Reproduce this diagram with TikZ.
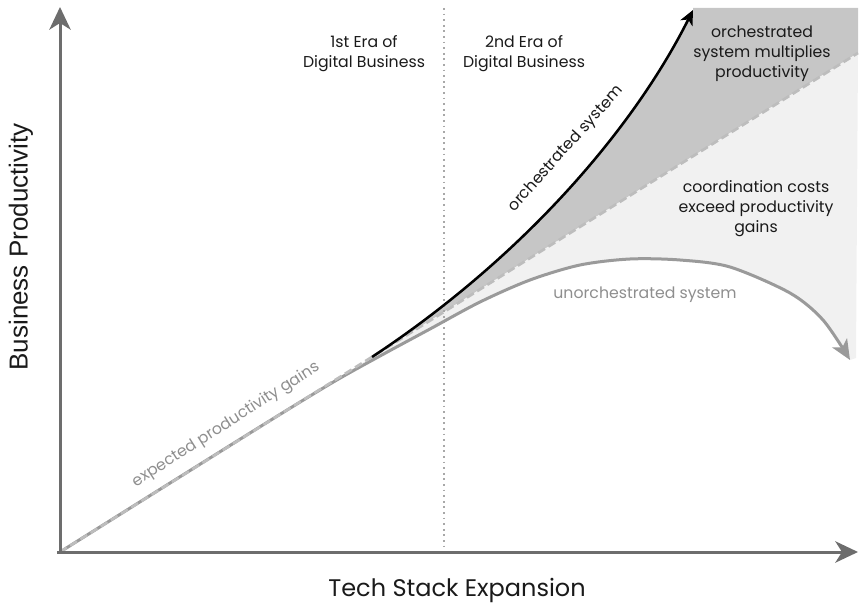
\documentclass[tikz,border=0pt]{standalone}
\usepackage{fontspec}
\setmainfont{Poppins}
\newfontfamily\axisfont{Liberation Sans}
\usetikzlibrary{arrows.meta}
\definecolor{axisgray}{HTML}{6D6D6D}
\definecolor{curvegray}{HTML}{9A9A9A}
\definecolor{expgray}{HTML}{BDBDBD}
\definecolor{darkfill}{HTML}{C6C6C6}
\definecolor{lightfill}{HTML}{F1F1F1}
\definecolor{dotgray}{HTML}{A8A8A8}
\definecolor{labelgray}{HTML}{8E8E8E}
\definecolor{ink}{HTML}{1A1A1A}
\tikzset{
  px/.style={x=0.75pt,y=-0.75pt},
  axis/.style={draw=axisgray,line width=2.25pt,
    -{Stealth[length=17pt,width=16pt,inset=5pt]}},
  label/.style={inner sep=0pt,align=center,text=ink,
    font=\fontsize{11.8}{15}\selectfont},
  graylabel/.style={label,text=labelgray},
  axislabel/.style={inner sep=0pt,text=ink,font=\fontsize{18}{22}\selectfont},
}
\begin{document}
\begin{tikzpicture}[px]
\useasboundingbox (0,0) rectangle (860,606);

% key points
\coordinate (O) at (60,552);
\coordinate (Ytip) at (60,7);
\coordinate (Xtip) at (858,552);
\coordinate (Split) at (372,357);
\coordinate (Otip) at (693,10);
\coordinate (Eend) at (858,53);
\coordinate (Uend) at (850,360);

% region between orchestrated curve and expected line
\fill[darkfill] (Split) .. controls (522,258) and (633,130) .. (Otip)
  -- (693,8) -- (858,8) -- (Eend) -- cycle;

% region between expected line and unorchestrated curve
\fill[lightfill] plot[smooth] coordinates {(60,552) (250,433) (330,384)
  (380,356) (430,329) (480,302) (530,280) (580,265) (630,259) (680,260)
  (730,267) (790,293) (823,320) (850,360)}
  -- (856,358) -- (Eend) -- cycle;

% boundary between the two eras
\draw[dotgray,line width=1.4pt,dash pattern=on 1.4pt off 2.8pt]
  (444,8) coordinate (Dtop) -- (444,552) coordinate (Dbot);

% unorchestrated system
\draw[curvegray,line width=2.25pt,
  -{Stealth[length=15pt,width=13pt,inset=4pt]}]
  plot[smooth] coordinates {(60,552) (250,433) (330,384)
  (380,356) (430,329) (480,302) (530,280) (580,265) (630,259) (680,260)
  (730,267) (790,293) (823,320) (Uend)};

% expected productivity gains
\draw[expgray,line width=2pt,dash pattern=on 6pt off 3pt] (O) -- (Eend);

% orchestrated system
\draw[black,line width=1.9pt,-{Stealth[length=11pt,width=10pt,inset=3pt]}]
  (Split) .. controls (522,258) and (633,130) .. (Otip);

% axes
\draw[axis] (O) -- (Ytip);
\draw[axis] ([xshift=-2]O) -- (Xtip);

% labels
\node[label] (era1) at (364,54) {1st Era of\\Digital Business};
\node[label] (era2) at (524,54) {2nd Era of\\Digital Business};
\node[label] (mult) at (762,54) {orchestrated\\system multiplies\\productivity};
\node[label] (coord) at (756,209) {coordination costs\\exceed productivity\\gains};
\node[graylabel] (unorch) at (645,295) {unorchestrated system};
\node[label,rotate=48] (orch) at (566,149) {orchestrated system};
\node[graylabel,rotate=32.5] (exp) at (226,425) {expected productivity gains};
\node[axislabel,font=\axisfont\fontsize{19.5}{24}\selectfont,rotate=90]
  (ylab) at (21,247) {Business Productivity};
\node[axislabel] (xlab) at (457,590) {Tech Stack Expansion};
\end{tikzpicture}
\end{document}
